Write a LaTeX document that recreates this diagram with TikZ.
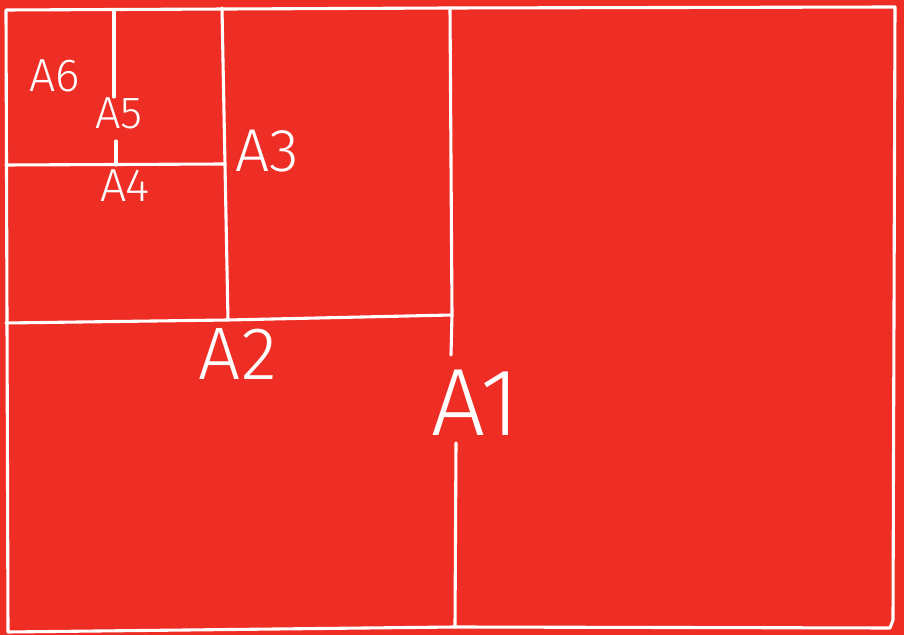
\documentclass[tikz,border=0pt]{standalone}
\usepackage{fontspec}
\newfontfamily\handfont{Fira Sans Light}
\definecolor{sheetred}{RGB}{238,46,36}
\newcommand{\fsz}[1]{\fontsize{#1}{#1}\selectfont}
\begin{document}
\begin{tikzpicture}[x=0.025cm, y=-0.025cm,
    edge/.style={white, line width=2.2pt, line cap=round, line join=round},
    size/.style={white, font=\handfont, inner sep=0}]

% Background
\fill[sheetred] (0,0) rectangle (904,635);
\useasboundingbox (0,0) rectangle (904,635);

% Sheet outline
\draw[edge] (6,10) -- (450,8) -- (895,7) -- (893,620) -- (890,628)
    -- (455,627) -- (8,632) -- cycle;

% A1 | A2 fold
\draw[edge] (450,8) -- (452,315) -- (451,355);
\draw[edge] (456,443) -- (455,627);
% A2 | A3 fold
\draw[edge] (6,323) -- (228,320) -- (452,315);
% A3 | A4 fold
\draw[edge] (222,8) -- (225,165) -- (228,320);
% A4 | A5 fold
\draw[edge] (6,165) -- (225,164);
% A5 | A6 fold
\draw[edge] (114,10) -- (114,97);
\draw[edge] (116,141) -- (116,165);

% Sizes
\node[size, font=\handfont\fsz{68}] (a1) at (476,403) {A1};
\node[size, font=\handfont\fsz{53}] (a2) at (238,354) {A2};
\node[size, font=\handfont\fsz{43}] (a3) at (267,151) {A3};
\node[size, font=\handfont\fsz{33}] (a4) at (125,186) {A4};
\node[size, font=\handfont\fsz{32}] (a5) at (119,113) {A5};
\node[size, font=\handfont\fsz{33}] (a6) at (55,76) {A6};

\end{tikzpicture}
\end{document}
